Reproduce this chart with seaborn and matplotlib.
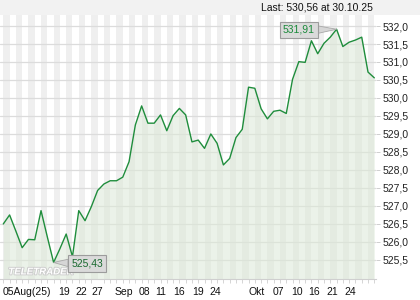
import numpy as np
import pandas as pd
import matplotlib
matplotlib.use("Agg")
import matplotlib.pyplot as plt
import matplotlib.patheffects as pe
import seaborn as sns

# ---- data ----
values = [526.50, 526.75, 526.30, 525.84, 526.07, 526.06, 526.87, 526.14, 525.43, 525.81,
          526.22, 525.59, 526.87, 526.59, 526.98, 527.43, 527.61, 527.70, 527.70, 527.80,
          528.23, 529.25, 529.78, 529.30, 529.30, 529.53, 529.09, 529.51, 529.71, 529.53,
          528.78, 528.83, 528.60, 529.00, 528.74, 528.14, 528.32, 528.90, 529.13, 530.30,
          530.27, 529.70, 529.42, 529.63, 529.66, 529.57, 530.52, 531.01, 530.99, 531.59,
          531.23, 531.52, 531.69, 531.91, 531.43, 531.55, 531.61, 531.69, 530.72, 530.56]
x_labels = ["05Aug(25)", "19", "22", "27", "Sep", "08", "11", "16", "19", "24",
            "Okt", "07", "10", "16", "21", "24"]
x_label_pos = [-0.1, 9.65, 12.35, 15.0, 19.2, 22.5, 25.1, 27.9, 30.9, 33.7,
               40.3, 43.7, 46.7, 49.4, 52.3, 55.1]
y_ticks = [525.5, 526.0, 526.5, 527.0, 527.5, 528.0, 528.5, 529.0, 529.5,
           530.0, 530.5, 531.0, 531.5, 532.0]
last_text = "Last: 530,56 at 30.10.25"

df = pd.DataFrame({"idx": np.arange(len(values)), "value": values})

sns.set_style("white")
plt.rcParams['font.family'] = ['Liberation Sans', 'DejaVu Sans']

W, H = 420, 300
fig = plt.figure(figsize=(W / 100, H / 100), dpi=100)
fig.patch.set_facecolor("white")

# header band
fig.patches.append(plt.Rectangle((0, 1 - 15 / H), 1, 15 / H, transform=fig.transFigure,
                                 facecolor="#f2f2f2", edgecolor="none", zorder=0))
fig.text(373 / W, 1 - 7.5 / H, last_text, ha="right", va="center", fontsize=7.5, color="#111111")

ax = fig.add_axes([0, (H - 279) / H, 376 / W, (279 - 15) / H])
ax.set_facecolor("white")

n = len(values)
ax.set_xlim(-0.525, 59.27)
ax.set_ylim(524.97, 532.306)

# stripes
for i in range(0, n, 2):
    ax.axvspan(i, i + 1, facecolor="#efefef", edgecolor="none", lw=0, zorder=0.5)

# grid
for yv in y_ticks:
    ax.axhline(yv, color="#dcdcdc", lw=0.9, zorder=1)

# fill + line
ax.fill_between(df["idx"], df["value"], 524.0, color="#dce9d7", alpha=0.55, lw=0, zorder=2)
sns.lineplot(data=df, x="idx", y="value", ax=ax, color="#1f8d3c", lw=1.0, zorder=3)

# annotations
imax = int(np.argmax(values))
imin = int(np.argmin(values))
ax.annotate(f"{values[imax]:.2f}".replace(".", ","), xy=(imax, values[imax]), xytext=(47.0, 531.89),
            ha="center", va="center", fontsize=7.5, color="#1a8a3a",
            bbox=dict(boxstyle="square,pad=0.3", fc="#dadada", ec="#9c9c9c", lw=0.8),
            arrowprops=dict(arrowstyle="wedge,tail_width=0.7,shrink_factor=0.5", fc="#d6d6d6",
                            ec="#a8a8a8", lw=0.6, shrinkA=0, shrinkB=0), zorder=5)
ax.annotate(f"{values[imin]:.2f}".replace(".", ","), xy=(imin, values[imin]), xytext=(13.37, 525.40),
            ha="center", va="center", fontsize=7.5, color="#1a6a30",
            bbox=dict(boxstyle="square,pad=0.3", fc="#dadada", ec="#9c9c9c", lw=0.8),
            arrowprops=dict(arrowstyle="wedge,tail_width=0.7,shrink_factor=0.5", fc="#d6d6d6",
                            ec="#a8a8a8", lw=0.6, shrinkA=0, shrinkB=0), zorder=5)

# watermark
ax.text(0.8, 525.18, "TELETRADER", fontsize=7, fontweight="bold", fontstyle="italic",
        color="white", ha="left", va="center", zorder=4,
        path_effects=[pe.withStroke(linewidth=1.3, foreground="#cccccc")])

# axes styling
for s in ["top", "left", "right"]:
    ax.spines[s].set_visible(False)
ax.spines["bottom"].set_color("#cfcfcf")
ax.spines["bottom"].set_linewidth(0.8)

ax.yaxis.tick_right()
ax.set_yticks(y_ticks)
ax.set_yticklabels([f"{v:.1f}".replace(".", ",") for v in y_ticks])
ax.tick_params(axis="y", which="major", length=3, width=0.7, color="#cfcfcf",
               pad=2, labelsize=7.5, labelcolor="#222222", right=True)

ax.set_xticks(x_label_pos)
ax.set_xticklabels(x_labels)
ax.set_xticks(np.arange(n), minor=True)
ax.tick_params(axis="x", which="major", length=0, pad=6, labelsize=7.5, labelcolor="#111111")
ax.tick_params(axis="x", which="minor", length=3, width=0.6, color="#cfcfcf", bottom=True)
ax.get_xticklabels()[0].set_ha("left")
ax.set_xlabel("")
ax.set_ylabel("")
ax.grid(False)

fig.savefig("out.png", dpi=100)
